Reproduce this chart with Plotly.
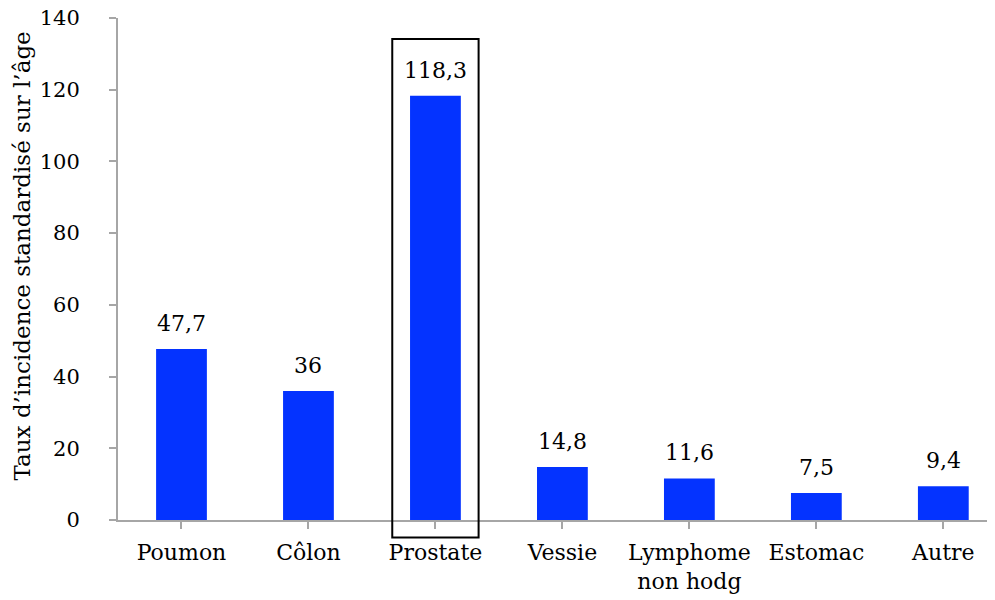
import plotly.graph_objects as go

categories = ["Poumon", "Côlon", "Prostate", "Vessie", "Lymphome<br>non hodg", "Estomac", "Autre"]
values = [47.7, 36, 118.3, 14.8, 11.6, 7.5, 9.4]
value_labels = ["47,7", "36", "118,3", "14,8", "11,6", "7,5", "9,4"]
y_ticks = [0, 20, 40, 60, 80, 100, 120, 140]
y_title = "Taux d’incidence standardisé sur l’âge"

FONT = "DejaVu Serif"
AXIS_COLOR = "#a6a6a6"

fig = go.Figure()
fig.add_trace(go.Bar(
    x=list(range(len(categories))), y=values,
    marker=dict(color="#0433ff", line=dict(width=0)),
    width=0.4,
    hoverinfo="skip",
))

for i, (v, t) in enumerate(zip(values, value_labels)):
    fig.add_annotation(x=i, y=v, text=t, showarrow=False, yanchor="bottom",
                       yshift=11, font=dict(family=FONT, size=22, color="black"))

# y-axis title as a rotated annotation
fig.add_annotation(xref="paper", yref="paper", x=-0.109, y=0.526, text=y_title,
                   textangle=-90, showarrow=False, xanchor="center", yanchor="middle",
                   font=dict(family=FONT, size=23, color="black"))

# highlight box around Prostate
fig.add_shape(type="rect", xref="x", yref="paper", x0=1.66, x1=2.34, y0=-0.035, y1=0.958,
              line=dict(color="black", width=2), fillcolor="rgba(0,0,0,0)", layer="above")

fig.update_layout(
    width=995, height=600,
    margin=dict(l=110, r=0, t=10, b=88),
    plot_bgcolor="white", paper_bgcolor="white",
    showlegend=False,
    font=dict(family=FONT, size=22, color="black"),
    xaxis=dict(
        tickmode="array", tickvals=list(range(len(categories))), ticktext=categories,
        range=[-0.5, 6.47], showgrid=False, zeroline=False,
        showline=True, linecolor=AXIS_COLOR, linewidth=2,
        ticks="outside", ticklen=7, tickcolor=AXIS_COLOR, tickwidth=2,
        tickfont=dict(family=FONT, size=22, color="black"),
        ticklabelstandoff=5, automargin=False, tickson="boundaries",
    ),
    yaxis=dict(
        range=[0, 140], tickvals=y_ticks, showgrid=False, zeroline=False,
        showline=True, linecolor=AXIS_COLOR, linewidth=2,
        ticks="outside", ticklen=7, tickcolor=AXIS_COLOR, tickwidth=2,
        tickfont=dict(family=FONT, size=21, color="black"),
        ticklabelstandoff=25, automargin=False, ticklabeloverflow="allow",
    ),
)

fig.write_html("out.html")
